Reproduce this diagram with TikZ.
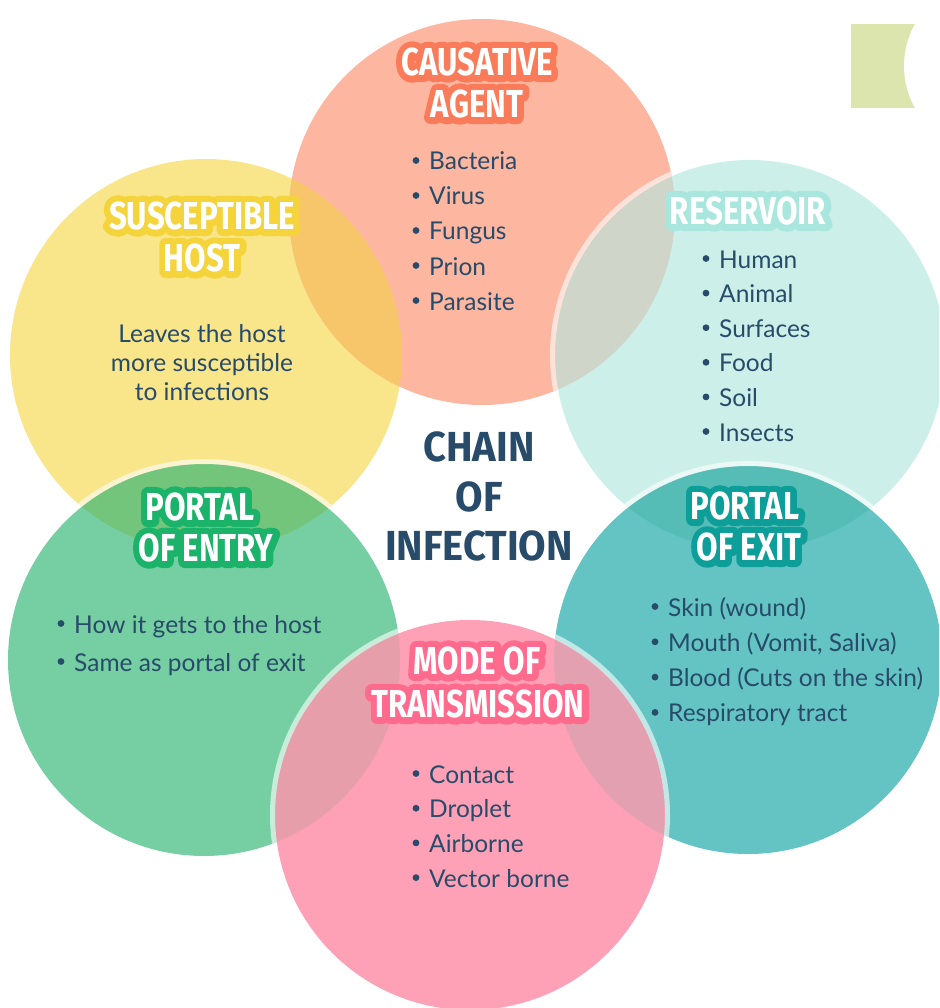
\documentclass[tikz,border=0pt]{standalone}
\usepackage{fontspec}
\setmainfont{Lato}
\newfontfamily\ttlfam[FakeStretch=0.8]{Fira Sans}
\newfontfamily\ctrfam[FakeStretch=0.95]{Fira Sans}
\usetikzlibrary{calc}
\definecolor{colC}{HTML}{FDB6A0}
\definecolor{colS}{HTML}{F9E58A}
\definecolor{colR}{HTML}{CCF0E9}
\definecolor{colX}{HTML}{64C4C4}
\definecolor{colE}{HTML}{76CFA3}
\definecolor{colM}{HTML}{FEA1B7}
\definecolor{ovCS}{HTML}{F8C66A}
\definecolor{ovCR}{HTML}{D0D5C9}
\definecolor{ovRX}{HTML}{56BDB6}
\definecolor{ovSE}{HTML}{72C57A}
\definecolor{ovEM}{HTML}{E69FAA}
\definecolor{ovXM}{HTML}{E3A0B1}
\definecolor{olC}{HTML}{FA7B5A}
\definecolor{olS}{HTML}{F5D33A}
\definecolor{olR}{HTML}{A9E6DD}
\definecolor{olE}{HTML}{1BB36A}
\definecolor{olX}{HTML}{0E9E9A}
\definecolor{olM}{HTML}{FF6A8D}
\definecolor{txtc}{HTML}{274B69}
\definecolor{badgec}{HTML}{DCE5AE}
\tikzset{
  ttl/.style={font=\ttlfam\bfseries\fontsize{39}{39}\selectfont, inner sep=0pt, anchor=center},
  ctr/.style={font=\ctrfam\bfseries\fontsize{42}{42}\selectfont, inner sep=0pt, anchor=center, text=txtc},
  btxt/.style={font=\fontsize{24.5}{28}\selectfont, inner sep=0pt, anchor=base west, text=txtc},
  ctxt/.style={font=\fontsize{24.5}{28}\selectfont, inner sep=0pt, anchor=base, text=txtc},
  ring/.style={draw=white, draw opacity=0.6, line width=5pt},
}
\newcommand\strk[1]{\special{pdf:literal direct 1 j 1 J 13 w 2 Tr}#1\special{pdf:literal direct 0 Tr 0 j 0 J}}
\newcommand\ttlnode[4]{%
  \node[ttl,text=#3] (#1o) at (#2) {\strk{#4}};
  \node[ttl,text=white] (#1) at (#2) {#4};
}
\newcommand\blist[5]{% name, x, first baseline, spacing, items
  \foreach \t [count=\i] in {#5} {
    \node[btxt] (#1\i) at (#2, {#3+(\i-1)*#4}) {\t};
    \fill[txtc] ($(#1\i.base west)+(-13,-9.5)$) circle[radius=3.4pt];
  }
}
\begin{document}
\begin{tikzpicture}[x=1pt,y=-1pt]
\clip (0,0) rectangle (939,1008);
\fill[white] (0,0) rectangle (939,1008);
% badge
\begin{scope}
  \clip (851,24) rectangle (915,108);
  \fill[badgec] (851,24) rectangle (915,108);
  \fill[white] (990,66) circle[radius=86pt];
\end{scope}
% circle centres
\coordinate (pC) at (482,212);
\coordinate (pR) at (750,355);
\coordinate (pX) at (748,660);
\coordinate (pM) at (470,815);
\coordinate (pE) at (204,660);
\coordinate (pS) at (206,355);
% fills
\fill[colS] (pS) circle[radius=196pt];
\fill[colC] (pC) circle[radius=193pt];
\fill[colR] (pR) circle[radius=195pt];
\fill[colX] (pX) circle[radius=194pt];
\fill[colE] (pE) circle[radius=196pt];
\fill[colM] (pM) circle[radius=195pt];
% overlaps
\begin{scope}\clip (pS) circle[radius=196pt]; \fill[ovCS] (pC) circle[radius=193pt];\end{scope}
\begin{scope}\clip (pC) circle[radius=193pt]; \fill[ovCR] (pR) circle[radius=195pt];\end{scope}
\begin{scope}\clip (pR) circle[radius=195pt]; \fill[ovRX] (pX) circle[radius=194pt];\end{scope}
\begin{scope}\clip (pS) circle[radius=196pt]; \fill[ovSE] (pE) circle[radius=196pt];\end{scope}
\begin{scope}\clip (pE) circle[radius=196pt]; \fill[ovEM] (pM) circle[radius=195pt];\end{scope}
\begin{scope}\clip (pX) circle[radius=194pt]; \fill[ovXM] (pM) circle[radius=195pt];\end{scope}
% rings
\begin{scope}\clip (pC) circle[radius=193pt]; \draw[ring] (pR) circle[radius=197.5pt];\end{scope}
\begin{scope}\clip (pR) circle[radius=195pt]; \draw[ring] (pX) circle[radius=196.5pt];\end{scope}
\begin{scope}\clip (pS) circle[radius=196pt]; \draw[ring] (pE) circle[radius=198.5pt];\end{scope}
\begin{scope}\clip (pE) circle[radius=196pt]; \draw[ring] (pM) circle[radius=197.5pt];\end{scope}
\begin{scope}\clip (pX) circle[radius=194pt]; \draw[ring] (pM) circle[radius=197.5pt];\end{scope}
% titles
\ttlnode{tC1}{477,62}{olC}{CAUSATIVE}
\ttlnode{tC2}{477,104}{olC}{AGENT}
\ttlnode{tS1}{202,216}{olS}{SUSCEPTIBLE}
\ttlnode{tS2}{202,258}{olS}{HOST}
\ttlnode{tR1}{748,211}{olR}{RESERVOIR}
\ttlnode{tE1}{200,507}{olE}{PORTAL}
\ttlnode{tE2}{206,548}{olE}{OF ENTRY}
\ttlnode{tX1}{745,506}{olX}{PORTAL}
\ttlnode{tX2}{749,547}{olX}{OF EXIT}
\ttlnode{tM1}{477,661}{olM}{MODE OF}
\ttlnode{tM2}{478,704}{olM}{TRANSMISSION}
% centre title
\node[ctr] (ch1) at (479,447) {CHAIN};
\node[ctr] (ch2) at (479,497) {OF};
\node[ctr] (ch3) at (479,546) {INFECTION};
% lists
\blist{lc}{429}{170}{35}{Bacteria,Virus,Fungus,Prion,Parasite}
\blist{lr}{719}{268}{34.6}{Human,Animal,Surfaces,Food,Soil,Insects}
\blist{le}{74}{633}{38}{How it gets to the host,Same as portal of exit}
\blist{lx}{668}{616}{35.3}{Skin (wound),{Mouth (Vomit, Saliva)},Blood (Cuts on the skin),Respiratory tract}
\blist{lm}{429}{783}{34.7}{Contact,Droplet,Airborne,Vector borne}
\node[ctxt] (s1) at (202,342) {Leaves the host};
\node[ctxt] (s2) at (202,371) {more susceptible};
\node[ctxt] (s3) at (202,400) {to infections};
\end{tikzpicture}
\end{document}
